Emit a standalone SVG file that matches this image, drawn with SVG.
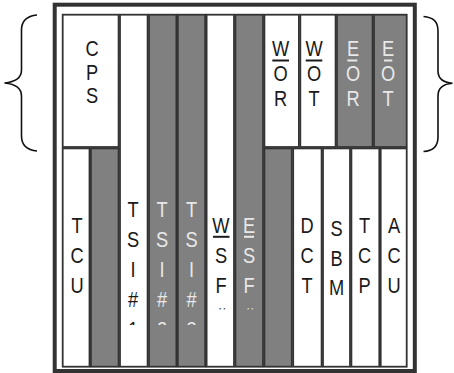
<svg xmlns="http://www.w3.org/2000/svg" width="454" height="373" viewBox="0 0 454 373">
<style>
.w{fill:#ffffff;stroke:#333333;stroke-width:1.8}
.g{fill:#808080;stroke:#333333;stroke-width:1.8}
.t{font-family:"Liberation Sans",Arial,sans-serif;font-size:22px;text-anchor:middle}
.dk{fill:#1a1a1a}
.lt{fill:#e8e8e8}
.ud{stroke:#1a1a1a;stroke-width:2}
.ul{stroke:#e8e8e8;stroke-width:2}
.brace{fill:none;stroke:#111111;stroke-width:1.6}
</style>
<defs>
<clipPath id="clipA" clipPathUnits="userSpaceOnUse"><rect x="0" y="0" width="600" height="325"/></clipPath>
<clipPath id="clipB" clipPathUnits="userSpaceOnUse"><rect x="0" y="0" width="600" height="309.5"/></clipPath>
</defs>
<rect x="54.7" y="4.7" width="360.1" height="366.3" fill="#ffffff" stroke="#333333" stroke-width="4"/>
<g id="braces">
<path class="brace" d="M37,15 C27,16 21.5,20 21.5,30 L21.5,70 C21.5,78 15,82 4.5,83 C15,84 21.5,88 21.5,96 L21.5,136 C21.5,146 27,150 37,151"/>
<path class="brace" d="M423.5,16.5 C433,17.5 438,21 438,31 L438,71 C438,79 443,82.5 452.5,83.3 C443,84 438,88 438,96 L438,137 C438,147 433,151 423.5,151.5"/>
</g>
<g id="connectors"></g>
<g id="CPS"><rect class="w" x="62.7" y="14.7" width="55.9" height="132.3"/>
<g transform="matrix(0.83,0,0,1,15.64,0)"><text class="t dk" x="92" y="56">C</text><text class="t dk" x="92" y="79.8">P</text><text class="t dk" x="92" y="103.5">S</text></g></g>
<g id="TCU"><rect class="w" x="62.7" y="148.4" width="26.8" height="218.3"/>
<g transform="matrix(0.83,0,0,1,13.09,0)"><text class="t dk" x="77" y="233.5">T</text><text class="t dk" x="77" y="263.5">C</text><text class="t dk" x="77" y="293.5">U</text></g></g>
<g id="blank1"><rect class="g" x="90.9" y="148.4" width="27.7" height="218.3"/></g>
<g id="TSI1"><rect class="w" x="120" y="14.7" width="27.6" height="352"/>
<g transform="matrix(0.83,0,0,1,22.61,0)"><g clip-path="url(#clipA)"><text class="t dk" x="133" y="217.3">T</text><text class="t dk" x="133" y="247.2">S</text><text class="t dk" x="133" y="277">I</text><text class="t dk" x="133" y="306.8">#</text><text class="t dk" x="133" y="336.6">1</text></g></g></g>
<g id="TSI2"><rect class="g" x="149" y="14.7" width="27.4" height="352"/>
<g transform="matrix(0.83,0,0,1,27.54,0)"><g clip-path="url(#clipA)"><text class="t lt" x="162" y="217.3">T</text><text class="t lt" x="162" y="247.2">S</text><text class="t lt" x="162" y="277">I</text><text class="t lt" x="162" y="306.8">#</text><text class="t lt" x="162" y="336.6">2</text></g></g></g>
<g id="TSI3"><rect class="g" x="177.8" y="14.7" width="27.4" height="352"/>
<g transform="matrix(0.83,0,0,1,32.555,0)"><g clip-path="url(#clipA)"><text class="t lt" x="191.5" y="217.3">T</text><text class="t lt" x="191.5" y="247.2">S</text><text class="t lt" x="191.5" y="277">I</text><text class="t lt" x="191.5" y="306.8">#</text><text class="t lt" x="191.5" y="336.6">3</text></g></g></g>
<g id="WSF"><rect class="w" x="206.6" y="14.7" width="27.4" height="352"/>
<g transform="matrix(0.83,0,0,1,37.57,0)"><g clip-path="url(#clipB)"><text class="t dk" x="221" y="233.5">W</text><text class="t dk" x="221" y="263.5">S</text><text class="t dk" x="221" y="293.5">F</text><text class="t dk" x="221" y="323.5">#</text></g></g>
<line class="ud" x1="213" y1="236.8" x2="229.5" y2="236.8"/></g>
<g id="ESF"><rect class="g" x="235.4" y="14.7" width="27.6" height="352"/>
<g transform="matrix(0.83,0,0,1,42.33,0)"><g clip-path="url(#clipB)"><text class="t lt" x="249" y="233.5">E</text><text class="t lt" x="249" y="263.5">S</text><text class="t lt" x="249" y="293.5">F</text><text class="t lt" x="249" y="323.5">#</text></g></g>
<line class="ul" x1="244" y1="236.8" x2="254" y2="236.8"/></g>
<g id="WOR"><rect class="w" x="264.4" y="14.7" width="34.5" height="132.3"/>
<g transform="matrix(0.83,0,0,1,47.719,0)"><text class="t dk" x="280.7" y="56">W</text><text class="t dk" x="280.7" y="81.5">O</text><text class="t dk" x="280.7" y="106.5">R</text></g>
<line class="ud" x1="272.3" y1="60.5" x2="289" y2="60.5"/></g>
<g id="WOT"><rect class="w" x="300.3" y="14.7" width="35.3" height="132.3"/>
<g transform="matrix(0.83,0,0,1,53.38,0)"><text class="t dk" x="314" y="56">W</text><text class="t dk" x="314" y="81.5">O</text><text class="t dk" x="314" y="106.5">T</text></g>
<line class="ud" x1="305.7" y1="60.5" x2="322.3" y2="60.5"/></g>
<g id="EOR"><rect class="g" x="337" y="14.7" width="35.6" height="132.3"/>
<g transform="matrix(0.83,0,0,1,60.01,0)"><text class="t lt" x="353" y="56">E</text><text class="t lt" x="353" y="81.5">O</text><text class="t lt" x="353" y="106.5">R</text></g>
<line class="ul" x1="347.3" y1="60.5" x2="357.3" y2="60.5"/></g>
<g id="EOT"><rect class="g" x="374" y="14.7" width="32.7" height="132.3"/>
<g transform="matrix(0.83,0,0,1,65.96,0)"><text class="t lt" x="388" y="56">E</text><text class="t lt" x="388" y="81.5">O</text><text class="t lt" x="388" y="106.5">T</text></g>
<line class="ul" x1="384" y1="60.5" x2="392.3" y2="60.5"/></g>
<g id="blank2"><rect class="g" x="264.4" y="148.4" width="27.4" height="218.3"/></g>
<g id="DCT"><rect class="w" x="293.2" y="148.4" width="28.4" height="218.3"/>
<g transform="matrix(0.83,0,0,1,52.19,0)"><text class="t dk" x="307" y="233.5">D</text><text class="t dk" x="307" y="263.5">C</text><text class="t dk" x="307" y="293.5">T</text></g></g>
<g id="SBM"><rect class="w" x="323" y="148.4" width="27" height="218.3"/>
<g transform="matrix(0.83,0,0,1,57.205,0)"><text class="t dk" x="336.5" y="236">S</text><text class="t dk" x="336.5" y="266">B</text><text class="t dk" x="336.5" y="295.5">M</text></g></g>
<g id="TCP"><rect class="w" x="351.4" y="148.4" width="27.9" height="218.3"/>
<g transform="matrix(0.83,0,0,1,61.965,0)"><text class="t dk" x="364.5" y="233.5">T</text><text class="t dk" x="364.5" y="263.5">C</text><text class="t dk" x="364.5" y="293.5">P</text></g></g>
<g id="ACU"><rect class="w" x="380.7" y="148.4" width="26" height="218.3"/>
<g transform="matrix(0.83,0,0,1,66.98,0)"><text class="t dk" x="394" y="233.5">A</text><text class="t dk" x="394" y="263.5">C</text><text class="t dk" x="394" y="293.5">U</text></g></g>
</svg>
